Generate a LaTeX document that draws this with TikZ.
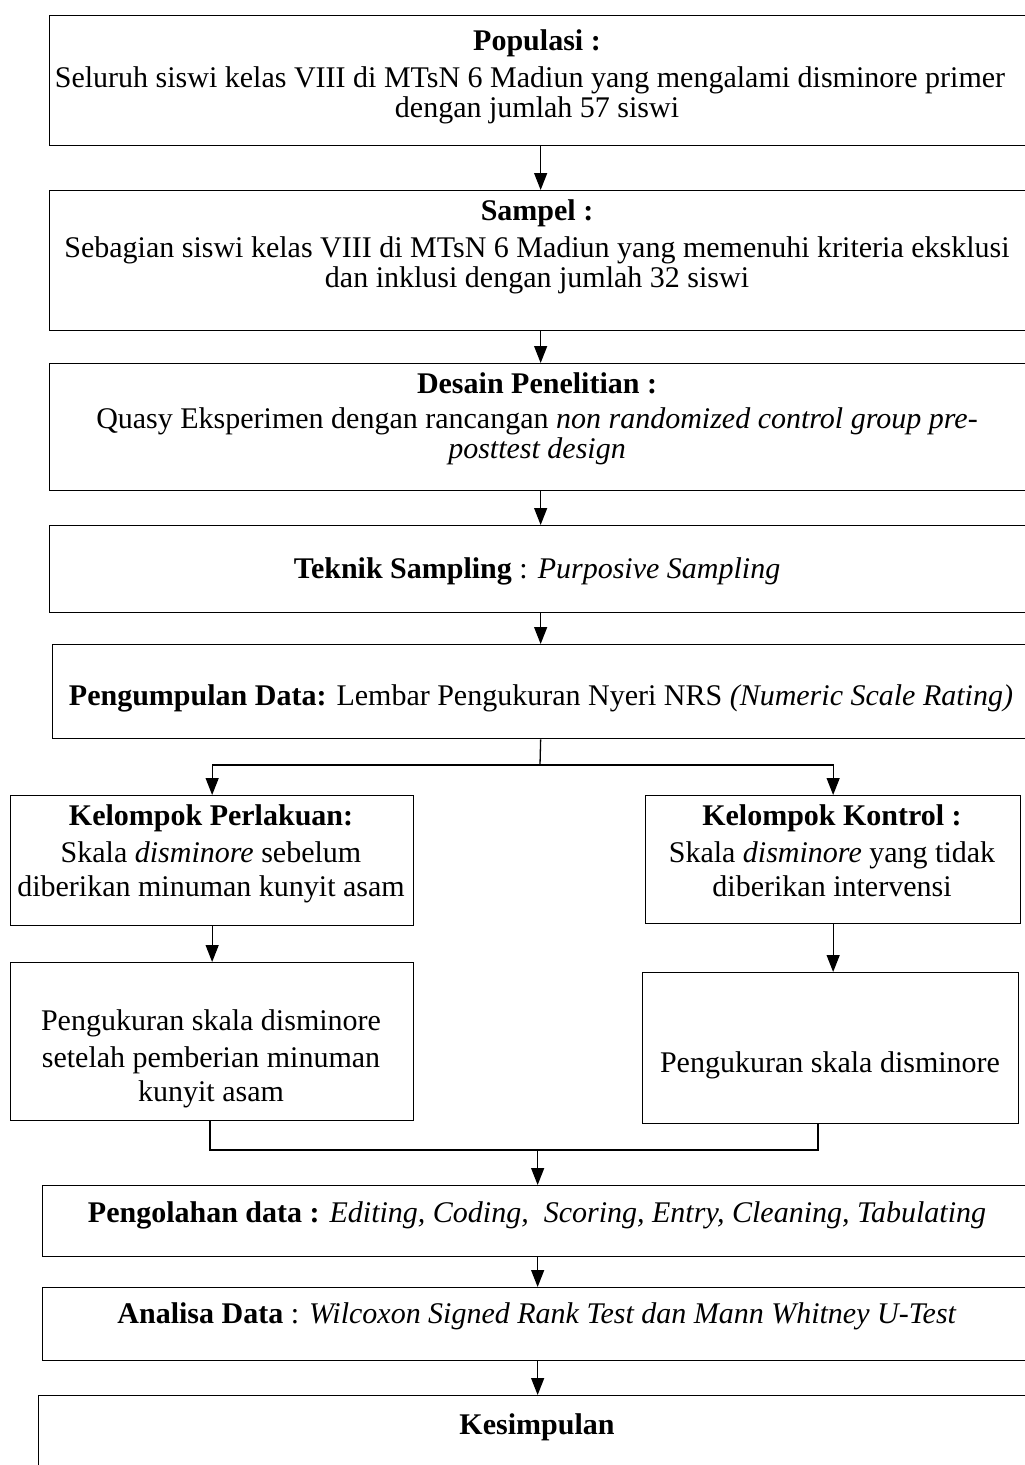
\documentclass[tikz,border=0pt]{standalone}
\usepackage{fontspec}
\setmainfont{Liberation Serif}
\usetikzlibrary{arrows.meta,calc}
\tikzset{
  box/.style={draw, line width=1.3pt, rectangle, anchor=north west, inner sep=0pt},
  txt/.style={inner sep=0pt, anchor=base, font=\fontsize{30}{35}\selectfont},
  conn/.style={line width=1.3pt},
  arr/.style={line width=1.3pt, -{Triangle[width=13pt,length=17pt]}},
}
\begin{document}
\begin{tikzpicture}[x=1pt,y=-1pt]
\useasboundingbox (0,0) rectangle (1025,1465);
\clip (0,0) rectangle (1025,1465);
% boxes
\node[box, minimum width=982pt, minimum height=130pt] (b1) at (49,15) {};
\node[box, minimum width=982pt, minimum height=140pt] (b2) at (49,190) {};
\node[box, minimum width=982pt, minimum height=127pt] (b3) at (49,363) {};
\node[box, minimum width=982pt, minimum height=87pt] (b4) at (49,525) {};
\node[box, minimum width=976pt, minimum height=94pt] (b5) at (52,644) {};
\node[box, minimum width=403pt, minimum height=130pt] (k1) at (10,795) {};
\node[box, minimum width=375pt, minimum height=128pt] (k2) at (645,795) {};
\node[box, minimum width=403pt, minimum height=158pt] (p1) at (10,962) {};
\node[box, minimum width=376pt, minimum height=151pt] (p2) at (642,972) {};
\node[box, minimum width=990pt, minimum height=71pt] (b8) at (42,1185) {};
\node[box, minimum width=990pt, minimum height=73pt] (b9) at (42,1287) {};
\node[box, minimum width=998pt, minimum height=120pt] (b10) at (38,1395) {};
% texts
\node[txt] (t1a) at (537,50) {\textbf{Populasi :}};
\node[txt] (t1b) at (530,87) {Seluruh siswi kelas VIII di MTsN 6 Madiun yang mengalami disminore primer};
\node[txt] (t1c) at (537,117) {dengan jumlah 57 siswi};
\node[txt] (t2a) at (537,220) {\textbf{Sampel :}};
\node[txt] (t2b) at (537,257) {Sebagian siswi kelas VIII di MTsN 6 Madiun yang memenuhi kriteria eksklusi};
\node[txt] (t2c) at (537,287) {dan inklusi dengan jumlah 32 siswi};
\node[txt] (t3a) at (537,393) {\textbf{Desain Penelitian :}};
\node[txt] (t3b) at (537,428) {Quasy Eksperimen dengan rancangan \textit{non randomized control group pre-}};
\node[txt] (t3c) at (537,458) {\textit{posttest design}};
\node[txt] (t4) at (537,578) {\textbf{Teknik Sampling} : \textit{Purposive Sampling}};
\node[txt] (t5) at (541,705) {\textbf{Pengumpulan Data:} Lembar Pengukuran Nyeri NRS \textit{(Numeric Scale Rating)}};
\node[txt] (k1a) at (211,825) {\textbf{Kelompok Perlakuan:}};
\node[txt] (k1b) at (211,862) {Skala \textit{disminore} sebelum};
\node[txt] (k1c) at (211,896) {diberikan minuman kunyit asam};
\node[txt] (k2a) at (832,825) {\textbf{Kelompok Kontrol :}};
\node[txt] (k2b) at (832,862) {Skala \textit{disminore} yang tidak};
\node[txt] (k2c) at (832,896) {diberikan intervensi};
\node[txt] (p1a) at (211,1030) {Pengukuran skala disminore};
\node[txt] (p1b) at (211,1067) {setelah pemberian minuman};
\node[txt] (p1c) at (211,1101) {kunyit asam};
\node[txt] (p2a) at (830,1072) {Pengukuran skala disminore};
\node[txt] (t8) at (537,1222) {\textbf{Pengolahan data :} \textit{Editing, Coding,\ \ Scoring, Entry, Cleaning, Tabulating}};
\node[txt] (t9) at (537,1323) {\textbf{Analisa Data} : \textit{Wilcoxon Signed Rank Test dan Mann Whitney U-Test}};
\node[txt] (t10) at (537,1434) {\textbf{Kesimpulan}};
% connectors
\draw[arr] (b1.south) -- (b2.north);
\draw[arr] (b2.south) -- (b3.north);
\draw[arr] (b3.south) -- (b4.north);
\draw[arr] (b4.south) -- (b5.north);
\coordinate (br) at (540,765);
\draw[conn] (b5.south) -- (br);
\draw[arr] (br) -| (k1.north);
\draw[arr] (br) -| (k2.north);
\draw[arr] (k1.south) -- (p1.north);
\draw[arr] (k2.south) -- (k2.south |- p2.north);
\coordinate (jl) at (210,1150);
\coordinate (jr) at (818,1150);
\draw[conn] (p1.south -| jl) -- (jl) -- (jr) -- (p2.south -| jr);
\draw[arr] (b8.north |- jl) -- (b8.north);
\draw[arr] (b8.south) -- (b9.north);
\draw[arr] (b9.south) -- (b10.north);
\end{tikzpicture}
\end{document}
